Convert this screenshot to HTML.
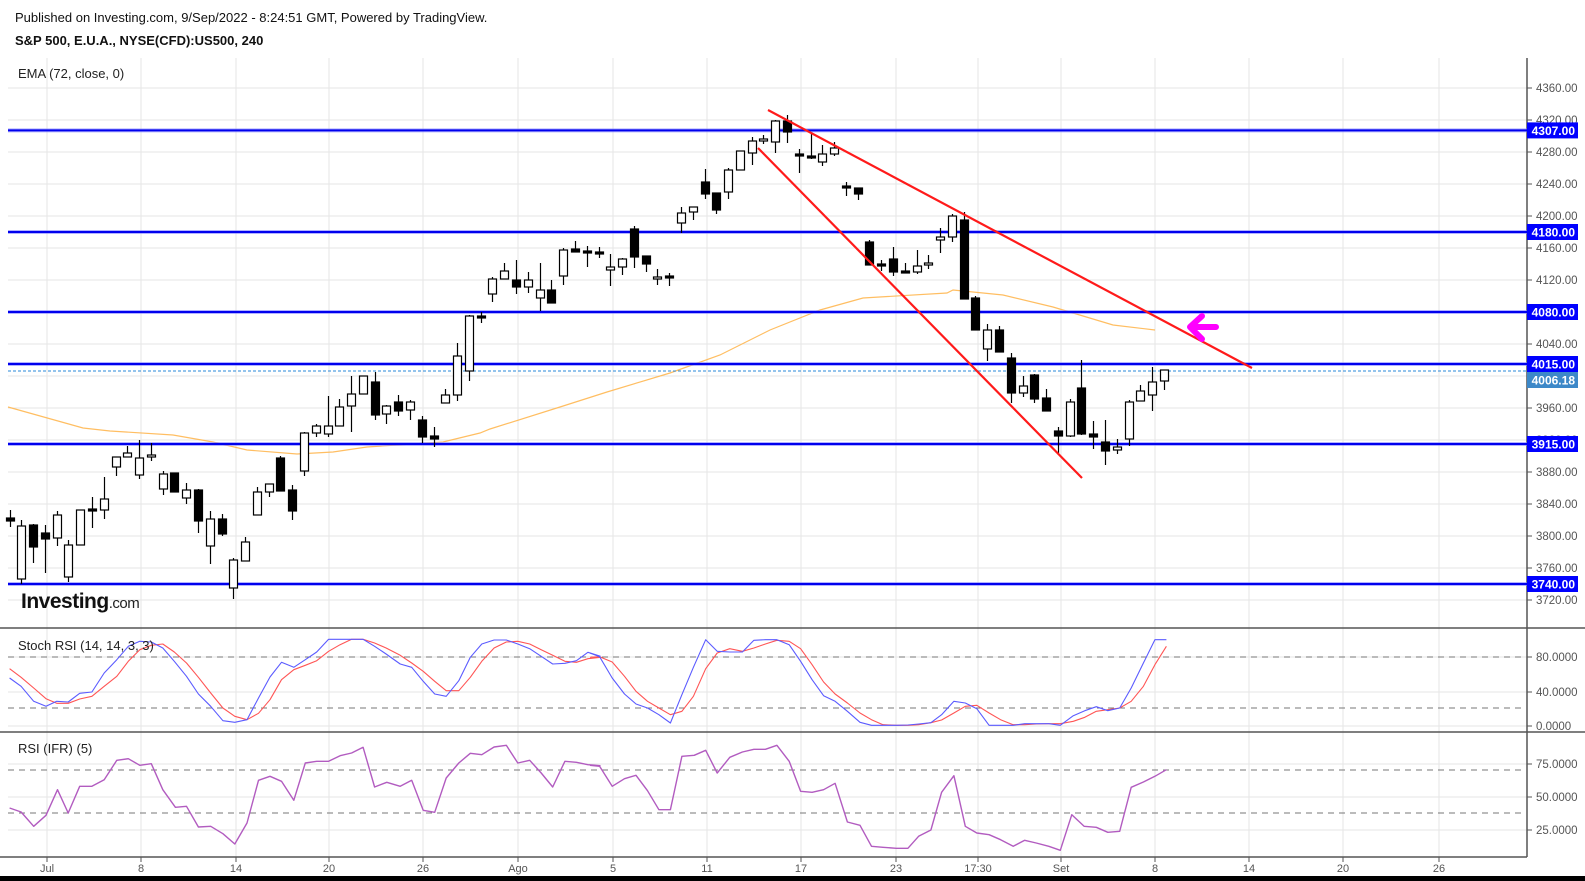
<!DOCTYPE html>
<html><head><meta charset="utf-8">
<style>
html,body{margin:0;padding:0;background:#fff;}
body{width:1585px;height:881px;overflow:hidden;position:relative;font-family:"Liberation Sans",Arial,sans-serif;}
svg{position:absolute;left:0;top:0;}
</style></head>
<body>
<svg id="s" width="1585" height="881" xmlns="http://www.w3.org/2000/svg" font-family="Liberation Sans, Arial, sans-serif">
<text x="15" y="22" font-size="13" fill="#111">Published on Investing.com, 9/Sep/2022 - 8:24:51 GMT, Powered by TradingView.</text>
<text x="15" y="45" font-size="13" font-weight="bold" fill="#111">S&amp;P 500, E.U.A., NYSE(CFD):US500, 240</text>
<g id="grid"></g>
<g id="ema"></g>
<g id="hl"></g>
<g id="candles"></g>
<g id="red"></g>
<g id="ind"></g>
<text x="18" y="78" font-size="13" fill="#222">EMA (72, close, 0)</text>
<text x="18" y="650" font-size="13" fill="#222">Stoch RSI (14, 14, 3, 3)</text>
<text x="18" y="753" font-size="13" fill="#222">RSI (IFR) (5)</text>
<text x="21" y="608" font-size="21" font-weight="bold" fill="#111" letter-spacing="-0.5">Investing<tspan font-size="15" font-weight="normal" fill="#222">.com</tspan></text>
<rect x="0" y="876" width="1585" height="5" fill="#000"/>
</svg>
<script>
var NS="http://www.w3.org/2000/svg";
function el(p,t,a,txt){var e=document.createElementNS(NS,t);for(var k in a)e.setAttribute(k,a[k]);if(txt!==undefined)e.textContent=txt;document.getElementById(p).appendChild(e);return e;}
function Y(p){return 88+(4360-p)*0.8;}
var vx=[47,141,236,329,423,518,613,707,801,896,978,1061,1155,1249,1343,1439];
var vl=["Jul","8","14","20","26","Ago","5","11","17","23","17:30","Set","8","14","20","26"];
vx.forEach(function(x,i){el("grid","line",{x1:x,y1:58,x2:x,y2:857,stroke:"#e6e6e6","stroke-width":1});
el("grid","line",{x1:x,y1:857,x2:x,y2:862,stroke:"#555"});
el("grid","text",{x:x,y:872,"font-size":11,fill:"#555","text-anchor":"middle"},vl[i]);});
for(var p=3720;p<=4360;p+=40){var y=Y(p);el("grid","line",{x1:8,y1:y,x2:1527,y2:y,stroke:"#e6e6e6"});
el("grid","line",{x1:1527,y1:y,x2:1532,y2:y,stroke:"#555"});
el("grid","text",{x:1536,y:y+4,"font-size":11.5,fill:"#555"},p.toFixed(2));}
[[657,"80.0000"],[692,"40.0000"],[726,"0.0000"]].forEach(function(a){el("grid","line",{x1:8,y1:a[0],x2:1527,y2:a[0],stroke:"#e6e6e6"});el("grid","line",{x1:1527,y1:a[0],x2:1532,y2:a[0],stroke:"#555"});el("grid","text",{x:1536,y:a[0]+4,"font-size":11.5,fill:"#555"},a[1]);});
[[764,"75.0000"],[797,"50.0000"],[830,"25.0000"]].forEach(function(a){el("grid","line",{x1:8,y1:a[0],x2:1527,y2:a[0],stroke:"#e6e6e6"});el("grid","line",{x1:1527,y1:a[0],x2:1532,y2:a[0],stroke:"#555"});el("grid","text",{x:1536,y:a[0]+4,"font-size":11.5,fill:"#555"},a[1]);});
[657,708,770,813].forEach(function(y){el("grid","line",{x1:8,y1:y,x2:1522,y2:y,stroke:"#777","stroke-dasharray":"6,5"});});
el("grid","line",{x1:0,y1:628,x2:1585,y2:628,stroke:"#555","stroke-width":1.5});
el("grid","line",{x1:0,y1:732,x2:1585,y2:732,stroke:"#555","stroke-width":1.5});
el("grid","line",{x1:0,y1:857,x2:1527,y2:857,stroke:"#555","stroke-width":1.5});
el("grid","line",{x1:1527,y1:58,x2:1527,y2:857,stroke:"#555","stroke-width":1.5});
el("ema","polyline",{points:"8,407 83,428 110,431 173,435 213,442 247,450 297,454 333,452 367,447 443,442 480,433 490,429 560,407 607,392 670,373 720,355 770,330 820,310 863,298 947,293 953,290 1003,295 1053,307 1113,325 1155,330",fill:"none",stroke:"#ffb347","stroke-width":1.2,opacity:0.85});
var yd=Y(4006.18);
el("hl","line",{x1:8,y1:yd,x2:1527,y2:yd,stroke:"#2a88d8","stroke-dasharray":"3,2"});
el("hl","rect",{x:1527,y:372,width:51,height:16,fill:"#3d88c8"});
el("hl","text",{x:1575,y:384.5,"font-size":12,"font-weight":"bold",fill:"#fff","text-anchor":"end"},"4006.18");
[4307,4180,4080,4015,3915,3740].forEach(function(p){var y=Y(p);
el("hl","line",{x1:8,y1:y,x2:1527,y2:y,stroke:"#8080ff","stroke-width":4,opacity:0.6});
el("hl","line",{x1:8,y1:y,x2:1527,y2:y,stroke:"#0000ee","stroke-width":2});
el("hl","rect",{x:1527,y:y-8,width:51,height:16,fill:"#0000ff"});
el("hl","text",{x:1575,y:y+4.5,"font-size":12,"font-weight":"bold",fill:"#fff","text-anchor":"end"},p.toFixed(2));});
var C=[[0,518,521,510,527],[1,526,579,520,584],[0,525,547,524,563],[0,533,539,525,573],[1,515,538,511,546],[1,545,577,540,582],[1,510,545,510,545],[0,509,511,497,528],[1,499,510,477,519],[1,457,467,457,476],[1,453,457,446,457],[1,458,475,440,479],[1,455,457,443,461],[1,474,489,471,495],[0,473,492,473,492],[1,490,498,483,504],[0,490,521,489,533],[1,519,546,511,564],[0,519,534,514,536],[1,560,588,558,599],[1,542,561,537,561],[1,492,515,487,515],[1,484,492,484,497],[0,458,491,456,491],[0,490,511,485,520],[1,433,471,432,476],[1,426,433,424,437],[1,426,434,396,437],[1,407,426,399,426],[1,394,406,376,432],[1,376,394,376,394],[0,382,415,372,420],[1,406,414,405,424],[0,402,411,395,416],[1,402,410,400,420],[0,420,437,416,443],[0,436,439,427,447],[1,395,403,389,403],[1,356,395,343,401],[1,316,371,315,381],[0,316,318,312,323],[1,279,294,277,302],[1,271,279,263,279],[0,280,287,260,294],[1,280,287,272,293],[1,290,298,263,311],[0,290,303,280,303],[1,250,276,248,285],[0,249,252,241,252],[0,251,253,246,267],[0,252,254,247,258],[1,267,270,254,286],[1,259,267,258,275],[0,229,257,226,268],[0,256,264,256,272],[1,277,279,269,285],[0,276,278,273,286],[1,213,223,207,233],[1,207,212,207,220],[0,182,194,169,199],[0,193,210,193,214],[1,170,192,168,199],[1,151,170,151,170],[1,141,153,137,165],[1,139,141,135,144],[1,121,142,120,153],[0,121,132,115,143],[0,154,156,149,173],[0,156,158,133,159],[1,154,162,145,166],[1,148,154,142,156],[0,186,188,182,196],[0,188,194,188,200],[0,242,265,240,265],[0,264,266,260,271],[0,259,272,247,276],[0,271,273,263,273],[1,266,272,250,274],[1,263,265,255,269],[1,237,240,228,253],[1,216,237,214,242],[0,220,299,212,299],[0,298,330,296,330],[1,330,349,324,361],[0,330,352,326,352],[0,358,393,353,403],[1,386,393,376,397],[0,375,399,374,403],[0,398,411,389,411],[0,431,436,427,453],[1,402,436,399,437],[0,388,434,360,435],[0,434,437,421,449],[0,442,451,420,465],[1,447,450,439,454],[1,402,439,400,446],[1,391,401,385,401],[1,382,395,367,411],[1,370,381,370,390]];
C.forEach(function(c,i){var x=Math.round(9.5+11.78*i)+0.5;
el("candles","line",{x1:x,y1:c[3],x2:x,y2:c[4],stroke:"#000","stroke-width":1.2});
var h=Math.max(c[2]-c[1],1.5);
el("candles","rect",{x:x-4,y:c[1],width:8,height:h,fill:c[0]?"#fff":"#000",stroke:"#000","stroke-width":1.2});});
el("red","line",{x1:768,y1:110,x2:1252,y2:368,stroke:"#ff1a1a","stroke-width":2.2});
el("red","line",{x1:758,y1:148,x2:1082,y2:478,stroke:"#ff1a1a","stroke-width":2.2});
el("red","path",{d:"M1216,327 L1191,327 M1202,316 L1190,327 L1202,339",fill:"none",stroke:"#ff00ff","stroke-width":6,"stroke-linecap":"round","stroke-linejoin":"round"});
function pl(arr,x0,y0,col,w){var s=arr.map(function(p){return (x0+p[0]*0.383).toFixed(1)+","+(y0+p[1]/3).toFixed(1);}).join(" ");el("ind","polyline",{points:s,fill:"none",stroke:col,"stroke-width":w,"stroke-linejoin":"round"});}
var b1=[[25,150],[55,175],[88,220],[120,235],[148,220],[178,222],[208,196],[240,192],[272,135],[305,95],[335,55],[365,40],[395,42],[425,60],[455,100],[487,145],[518,198],[550,235],[582,278],[613,283],[645,275],[675,210],[705,147],[735,103],[767,118],[797,95],[827,72],[858,34],[888,34],[918,34],[948,34],[978,55],[1008,78],[1045,108],[1075,118],[1105,160],[1135,198],[1165,205],[1198,158],[1228,88],[1258,48],[1290,36],[1322,36],[1352,48],[1383,62],[1413,85],[1443,108],[1475,106],[1505,98],[1535,73],[1568,85]];
var b2=[[0,75],[25,86],[58,150],[90,198],[120,228],[150,240],[180,260],[210,285],[240,200],[270,118],[302,35],[332,70],[365,72],[398,72],[428,37],[458,35],[488,35],[520,50],[550,100],[580,155],[610,203],[640,220],[672,250],[705,283],[735,292],[765,292],[800,292],[830,291],[858,288],[890,284],[918,260],[950,220],[980,225],[1010,242],[1042,292],[1072,292],[1105,292],[1135,287],[1165,287],[1198,287],[1228,292],[1262,263],[1292,248],[1322,236],[1352,248],[1383,240],[1413,180],[1445,105],[1475,35],[1505,35]];
var r1=[[25,122],[55,148],[88,180],[120,212],[148,226],[178,226],[208,213],[240,205],[272,175],[305,145],[335,100],[365,65],[395,52],[425,48],[455,72],[487,105],[518,148],[550,195],[582,240],[613,265],[645,275],[675,256],[705,215],[735,155],[767,125],[797,112],[827,98],[858,70],[888,50],[918,34],[948,34],[978,45],[1008,60],[1045,82],[1075,105],[1105,130],[1135,160],[1165,188],[1198,188],[1228,148],[1258,100],[1290,60],[1322,42],[1352,40],[1383,48],[1413,65],[1443,82],[1475,100],[1505,103],[1535,92],[1568,88]];
var r2=[[0,88],[25,86],[58,102],[90,145],[120,190],[150,220],[180,240],[210,260],[240,250],[270,205],[302,122],[332,75],[365,62],[398,70],[428,60],[458,48],[488,37],[520,40],[550,62],[580,110],[610,162],[640,198],[672,225],[705,255],[735,275],[765,290],[800,292],[830,292],[858,290],[890,284],[918,276],[950,255],[980,235],[1010,232],[1042,255],[1072,275],[1105,290],[1135,290],[1165,288],[1198,287],[1228,287],[1262,280],[1292,268],[1322,250],[1352,245],[1383,240],[1413,220],[1445,175],[1475,110],[1505,55]];
var s1=[[25,540],[55,552],[88,595],[120,562],[150,485],[178,555],[208,475],[240,475],[272,455],[305,397],[335,392],[365,412],[395,407],[425,485],[458,538],[487,535],[518,597],[550,595],[582,617],[613,648],[645,585],[675,457],[705,445],[735,460],[767,517],[797,405],[827,400],[858,400],[888,383],[918,375],[948,358],[978,477],[1010,463],[1045,475],[1075,457],[1105,547],[1135,553],[1165,450],[1198,405],[1228,376],[1258,380],[1290,357],[1322,352],[1352,405],[1383,397],[1413,435],[1443,477],[1475,400],[1505,403],[1535,410],[1568,413]];
var s2=[[0,412],[25,415],[58,475],[90,452],[120,442],[150,488],[180,545],[210,545],[240,385],[272,382],[302,367],[332,435],[365,388],[398,372],[428,364],[458,364],[488,352],[520,400],[550,490],[580,493],[610,485],[640,466],[672,582],[705,592],[735,655],[765,658],[800,661],[830,661],[858,625],[890,606],[918,493],[950,443],[980,595],[1010,615],[1042,620],[1072,635],[1105,655],[1135,637],[1165,645],[1198,655],[1228,667],[1258,560],[1290,595],[1322,598],[1352,613],[1383,610],[1413,478],[1445,462],[1475,445],[1505,425]];
pl(r1,0,628,"#ff5555",1.1);pl(r2,590,628,"#ff5555",1.1);
pl(b1,0,628,"#5b5bff",1.1);pl(b2,590,628,"#5b5bff",1.1);
pl(s1,0,628,"#b25cc0",1.4);pl(s2,590,628,"#b25cc0",1.4);
</script>
</body></html>
